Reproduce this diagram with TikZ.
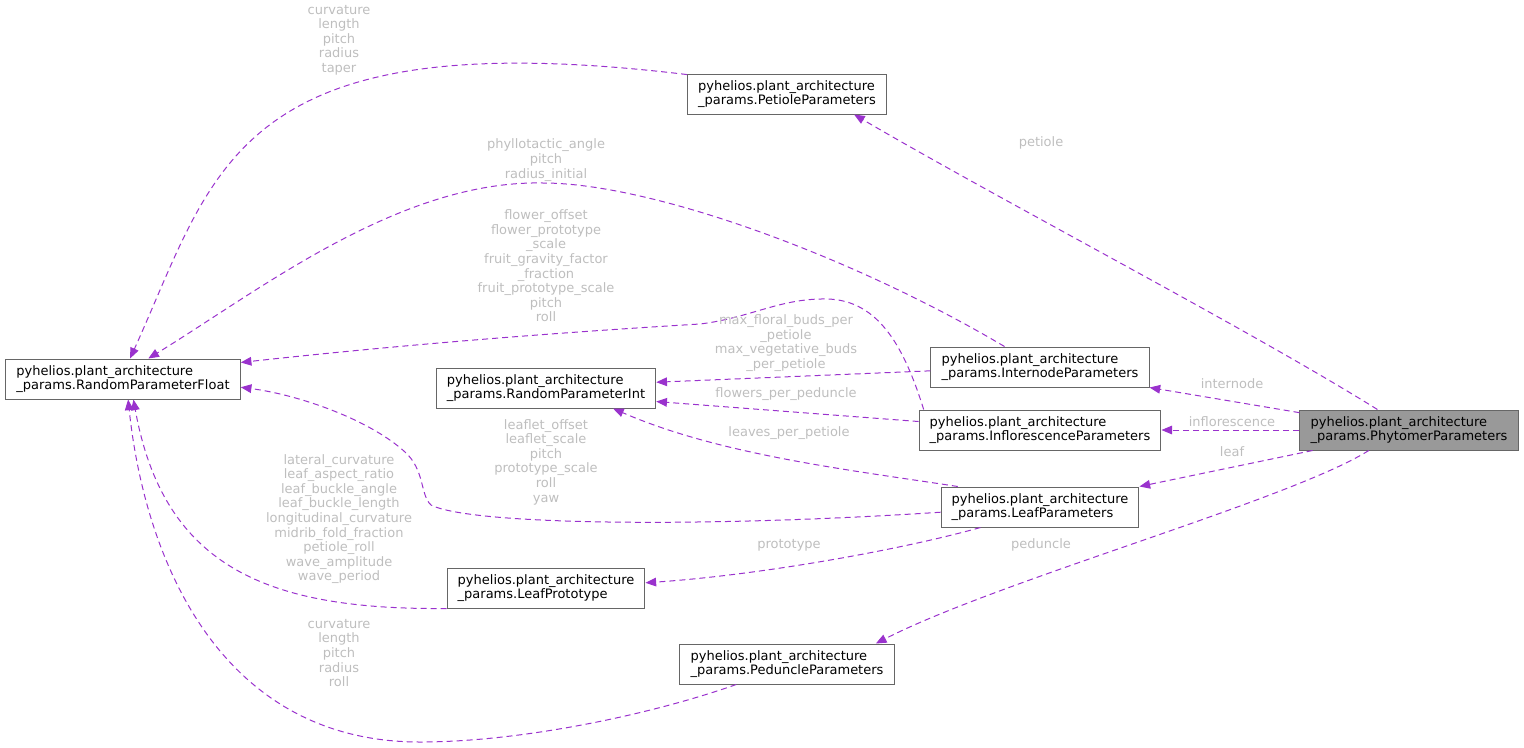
\documentclass[tikz,border=0pt]{standalone}
\usepackage{fontspec}
\setmainfont{DejaVu Sans}
\usetikzlibrary{arrows.meta}
\definecolor{edgeclr}{HTML}{9A32CD}
\definecolor{labelclr}{HTML}{BEBEBE}
\definecolor{boxline}{HTML}{666666}
\definecolor{curfill}{HTML}{999999}

\begin{document}
\begin{tikzpicture}[
        x=0.75pt, y=-0.75pt,
        cls/.style={rectangle, draw=boxline, line width=0.75pt, fill=white,
                    align=left, inner xsep=8pt, inner ysep=0pt,
                    minimum height=30pt, font=\fontsize{9.75}{10.5}\selectfont},
        cur/.style={cls, fill=curfill},
        lbl/.style={text=labelclr, align=center, inner sep=0pt,
                    font=\fontsize{9.75}{10.95}\selectfont},
        link/.style={-{Triangle[length=8pt, width=6.5pt]}, draw=edgeclr,
                     fill=none, line width=0.75pt, dash pattern=on 4.5pt off 3pt},
    ]
        \useasboundingbox (0,0) rectangle (1524,747);

        % classes
        \node[cls] (rpf) at (123,379) {pyhelios.plant\_architecture\\\_params.RandomParameterFloat};
        \node[cls] (rpi) at (546,388) {pyhelios.plant\_architecture\\\_params.RandomParameterInt};
        \node[cls] (pet) at (787,94) {pyhelios.plant\_architecture\\\_params.PetioleParameters};
        \node[cls] (intn) at (1040,367) {pyhelios.plant\_architecture\\\_params.InternodeParameters};
        \node[cls] (infl) at (1040,430) {pyhelios.plant\_architecture\\\_params.InflorescenceParameters};
        \node[cls] (leaf) at (1040,507) {pyhelios.plant\_architecture\\\_params.LeafParameters};
        \node[cls] (proto) at (546,588) {pyhelios.plant\_architecture\\\_params.LeafPrototype};
        \node[cls] (ped) at (787,664) {pyhelios.plant\_architecture\\\_params.PeduncleParameters};
        \node[cur] (phyt) at (1409,430) {pyhelios.plant\_architecture\\\_params.PhytomerParameters};

        % members of PhytomerParameters
        \draw[link] (phyt.147) .. controls (1250,330) and (1000,200) .. (pet.-17);
        \draw[link] (phyt.171) -- (intn.south east);
        \draw[link] (phyt.west) -- (infl.east);
        \draw[link] (phyt.-168) -- (leaf.north east);
        \draw[link] (phyt.-153) .. controls (1290,500) and (1000,580) .. (ped.13);

        % float parameters
        \draw[link] (pet.169) .. controls (233,20) and (216,169) .. (rpf.71);
        \draw[link] (intn.150) .. controls (850,255) and (650,183) .. (543,183)
            .. controls (400,180) and (260,290) .. (rpf.39);
        \draw[link] (infl.170) .. controls (905,350) and (880,300) .. (827,299)
            .. controls (780,298) and (750,318) .. (700,324)
            .. controls (550,333) and (400,345) .. (rpf.8);
        \draw[link] (leaf.-177) .. controls (700,528) and (470,525) .. (431,505)
            .. controls (420,495) and (425,470) .. (405,452)
            .. controls (370,420) and (300,395) .. (rpf.-4);
        \draw[link] (proto.south west) .. controls (270,610) and (164,569) .. (rpf.-63);
        \draw[link] (ped.-158) .. controls (650,715) and (520,742) .. (420,742)
            .. controls (220,742) and (145,560) .. (rpf.-76);

        % int parameters and prototype
        \draw[link] (intn.182) -- (rpi.3);
        \draw[link] (infl.176) -- (rpi.-7);
        \draw[link] (leaf.166) .. controls (850,470) and (720,455) .. (rpi.-17);
        \draw[link] (leaf.-161) .. controls (900,550) and (760,575) .. (proto.3);

        % edge labels
        \node[lbl] (lbPet) at (1041,143) {petiole};
        \node[lbl] (lbIntn) at (1232,384) {internode};
        \node[lbl] (lbInfl) at (1232,422) {inflorescence};
        \node[lbl] (lbLeaf) at (1232,452) {leaf};
        \node[lbl] (lbPed) at (1041,545) {peduncle};
        \node[lbl] (lbPetF) at (339,40) {curvature\\length\\pitch\\radius\\taper};
        \node[lbl] (lbIntnF) at (546,160) {phyllotactic\_angle\\pitch\\radius\_initial};
        \node[lbl] (lbInflF) at (546,266) {flower\_offset\\flower\_prototype\\\_scale\\fruit\_gravity\_factor\\\_fraction\\fruit\_prototype\_scale\\pitch\\roll};
        \node[lbl] (lbIntnI) at (786,343) {max\_floral\_buds\_per\\\_petiole\\max\_vegetative\_buds\\\_per\_petiole};
        \node[lbl] (lbInflI) at (786,394) {flowers\_per\_peduncle};
        \node[lbl] (lbLeafI) at (789,433) {leaves\_per\_petiole};
        \node[lbl] (lbLeafF) at (546,462) {leaflet\_offset\\leaflet\_scale\\pitch\\prototype\_scale\\roll\\yaw};
        \node[lbl] (lbProtoF) at (339,519) {lateral\_curvature\\leaf\_aspect\_ratio\\leaf\_buckle\_angle\\leaf\_buckle\_length\\longitudinal\_curvature\\midrib\_fold\_fraction\\petiole\_roll\\wave\_amplitude\\wave\_period};
        \node[lbl] (lbPedF) at (339,653) {curvature\\length\\pitch\\radius\\roll};
        \node[lbl] (lbProto) at (789,545) {prototype};

    \end{tikzpicture}
\end{document}
